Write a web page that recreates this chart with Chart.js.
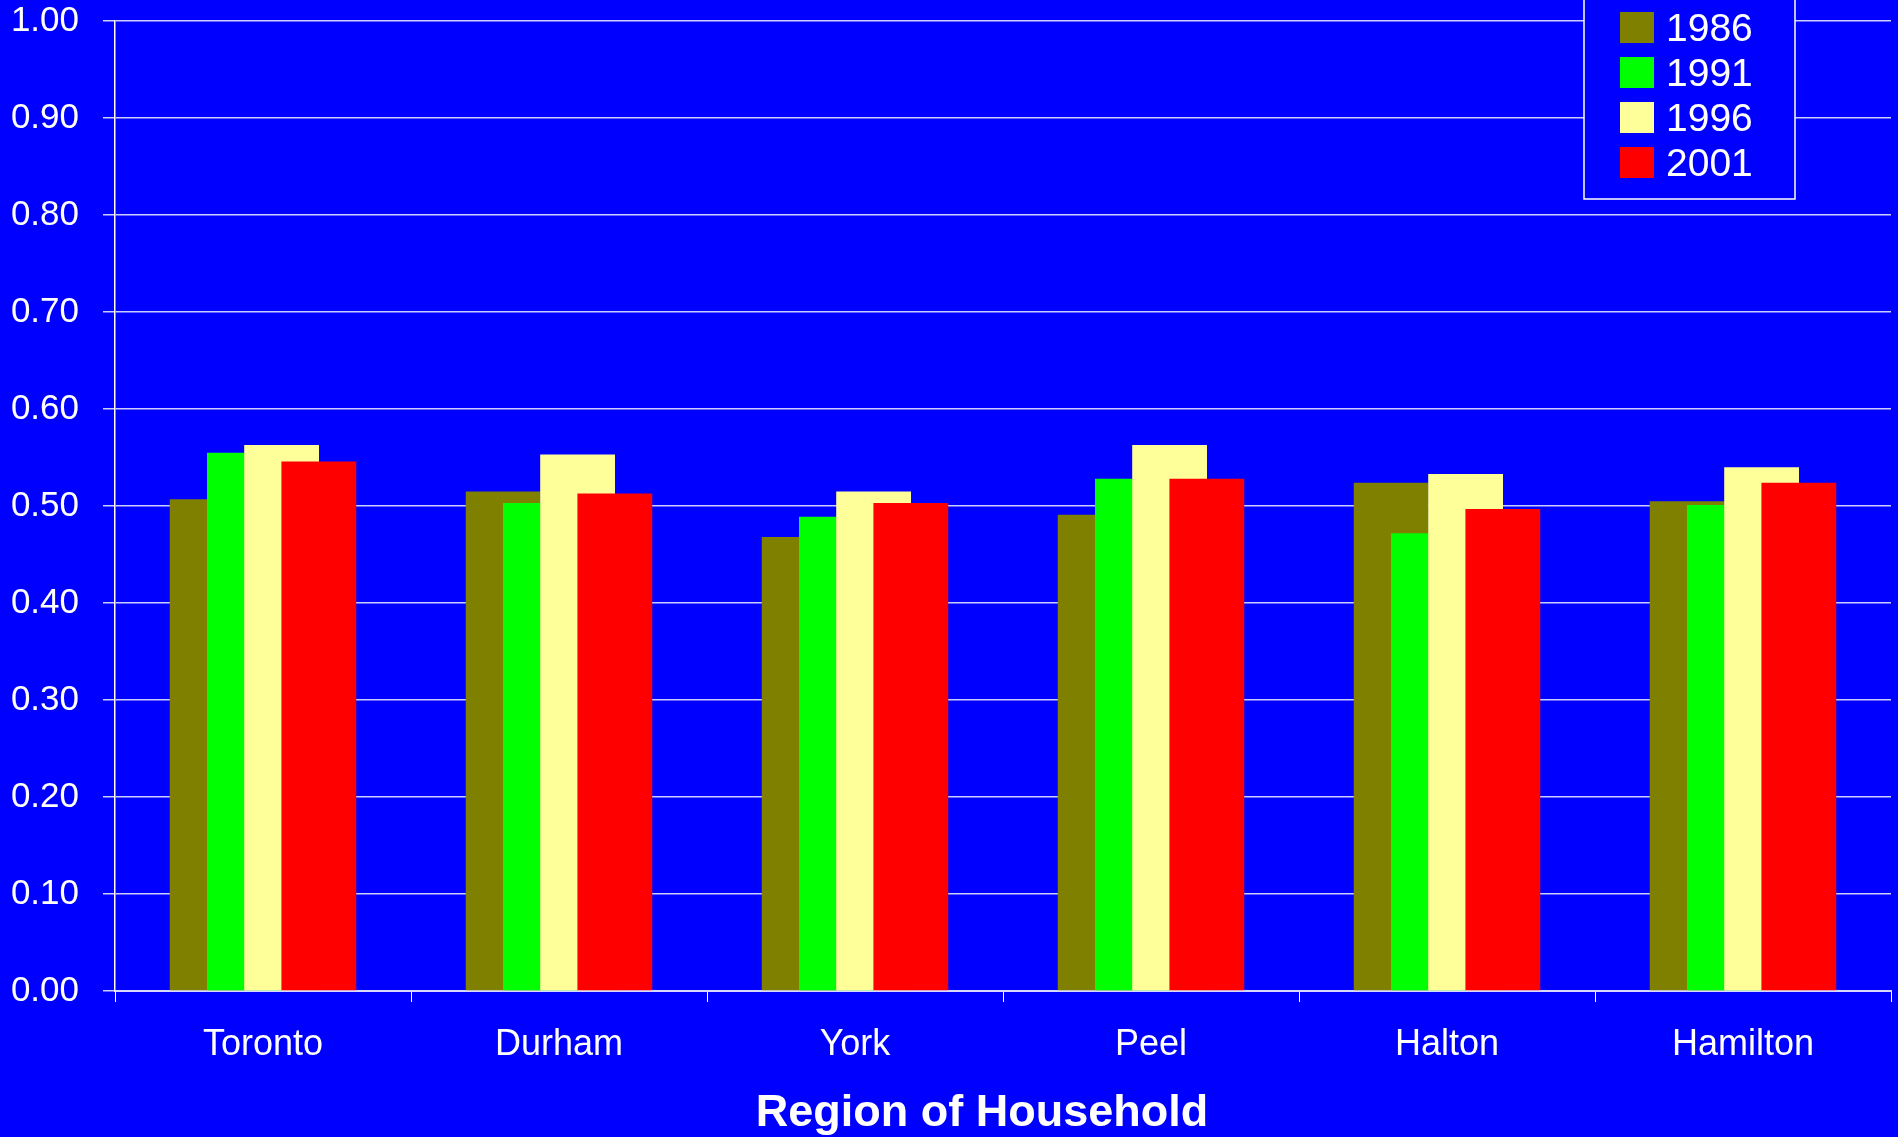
<!DOCTYPE html>
<html>
<head>
<meta charset="utf-8">
<title>Region of Household</title>
<script src="https://cdn.jsdelivr.net/npm/chart.js@4.4.1/dist/chart.umd.min.js"></script>
<style>
    html, body { margin: 0; padding: 0; background: #0000ff; overflow: hidden; }
    canvas { display: block; }
</style>
</head>
<body>
<canvas id="regionChart" width="1898" height="1137"></canvas>
<script>
// Chart data
const regions = ['Toronto', 'Durham', 'York', 'Peel', 'Halton', 'Hamilton'];
const years = ['1986', '1991', '1996', '2001'];
const values1986 = [0.507, 0.515, 0.468, 0.491, 0.524, 0.505];
const values1991 = [0.555, 0.503, 0.489, 0.528, 0.472, 0.501];
const values1996 = [0.563, 0.553, 0.515, 0.563, 0.533, 0.540];
const values2001 = [0.546, 0.513, 0.503, 0.528, 0.497, 0.524];
const seriesValues = [values1986, values1991, values1996, values2001];
const seriesColors = ['#808000', '#00ff00', '#ffff99', '#ff0000'];
const xAxisTitle = 'Region of Household';

const FONT = "'Liberation Sans', Arial, sans-serif";

// Bars overlap like the old Excel chart, so later years have to sit on top.
// Chart.js paints the first dataset last, so paint them ourselves in order.
const drawOrderPlugin = {
    id: 'drawOrder',
    beforeDatasetsDraw(chart) {
        const ctx = chart.ctx;
        const area = chart.chartArea;
        ctx.save();
        ctx.beginPath();
        ctx.rect(area.left, area.top - 2, area.right - area.left, area.bottom - area.top + 2);
        ctx.clip();
        for (let i = 0; i < chart.data.datasets.length; i++) {
            chart.getDatasetMeta(i).controller.draw();
        }
        ctx.restore();
        return false;
    }
};

// Legend box in the top right corner, partly cut off by the top edge
const boxLegendPlugin = {
    id: 'boxLegend',
    afterDraw(chart) {
        const ctx = chart.ctx;
        const left = 1584, right = 1795, top = -6, bottom = 199;
        ctx.save();
        ctx.fillStyle = '#0000ff';
        ctx.fillRect(left, top, right - left, bottom - top);
        ctx.strokeStyle = '#ffffff';
        ctx.lineWidth = 1.5;
        ctx.strokeRect(left, top, right - left, bottom - top);

        ctx.font = '39px ' + FONT;
        ctx.textAlign = 'left';
        ctx.textBaseline = 'alphabetic';
        chart.data.datasets.forEach((ds, i) => {
            const y = 12 + i * 45;
            ctx.fillStyle = ds.backgroundColor;
            ctx.fillRect(1620, y, 34, 31);
            ctx.fillStyle = '#ffffff';
            ctx.fillText(ds.label, 1666, y + 29);
        });
        ctx.restore();
    }
};

// Axis title sits a little left of the plot centre in the original
const axisTitlePlugin = {
    id: 'axisTitle',
    afterDraw(chart) {
        const ctx = chart.ctx;
        ctx.save();
        ctx.font = 'bold 45px ' + FONT;
        ctx.fillStyle = '#ffffff';
        ctx.textAlign = 'center';
        ctx.textBaseline = 'alphabetic';
        ctx.fillText(xAxisTitle, 982, 1126);
        ctx.restore();
    }
};

function buildDatasets() {
    return years.map((year, i) => ({
        label: year,
        data: seriesValues[i],
        backgroundColor: seriesColors[i],
        borderWidth: 0,
        categoryPercentage: 0.503,
        barPercentage: 2.01
    }));
}

const ctx = document.getElementById('regionChart').getContext('2d');
const regionChart = new Chart(ctx, {
    type: 'bar',
    data: {
        labels: regions,
        datasets: buildDatasets()
    },
    options: {
        responsive: false,
        animation: false,
        layout: {
            padding: { top: 21, right: 7, left: 0, bottom: 0 }
        },
        plugins: {
            legend: { display: false },
            tooltip: { enabled: false }
        },
        scales: {
            x: {
                grid: {
                    offset: true,
                    drawOnChartArea: false,
                    drawTicks: true,
                    tickLength: 11,
                    color: '#ffffff',
                    lineWidth: 1
                },
                border: { display: true, color: '#d8d8ff', width: 2 },
                ticks: {
                    color: '#ffffff',
                    font: { family: FONT, size: 36 },
                    padding: 21,
                    maxRotation: 0,
                    autoSkip: false
                },
                afterFit(scale) {
                    scale.height = 146;
                }
            },
            y: {
                min: 0,
                max: 1,
                grid: {
                    color: 'rgba(255, 255, 255, 0.8)',
                    lineWidth: 1.5,
                    tickLength: 12
                },
                border: { display: true, color: '#ffffff', width: 1.5 },
                ticks: {
                    stepSize: 0.1,
                    color: '#ffffff',
                    font: { family: FONT, size: 35 },
                    padding: 24,
                    callback: (value) => Number(value).toFixed(2)
                },
                afterFit(scale) {
                    scale.width = 115;
                    // the top label may poke above the plot; let layout padding decide
                    scale.paddingTop = 0;
                    scale.paddingBottom = 0;
                }
            }
        }
    },
    plugins: [drawOrderPlugin, boxLegendPlugin, axisTitlePlugin]
});
</script>
</body>
</html>
